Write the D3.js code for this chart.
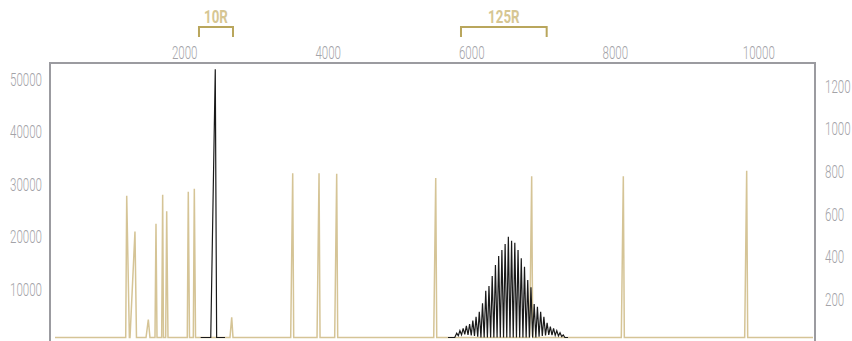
<!DOCTYPE html>
<html>
<head>
<meta charset="utf-8">
<script src="https://cdn.jsdelivr.net/npm/d3@7"></script>
<style>
  html, body { margin: 0; padding: 0; background: #fff; }
  svg { display: block; }
  .tick text { font-family: Roboto, "Liberation Sans", sans-serif; font-weight: 300; font-size: 17.5px; fill: #a3a3a8; }
</style>
</head>
<body>
<svg id="chart" width="852" height="341"></svg>
<script>
// m/z axis ticks and intensity ticks
const mzTicks = [2000, 4000, 6000, 8000, 10000];
const leftTicks = [10000, 20000, 30000, 40000, 50000];
const rightTicks = [200, 400, 600, 800, 1000, 1200];

// Reference spectrum (right axis): sparse calibrant peaks
const refMz = [200, 1185, 1199, 1236, 1245, 1314, 1335, 1468, 1500, 1523,
  1593, 1607, 1621, 1686, 1700, 1711, 1742, 1756, 1774, 2043, 2057, 2074,
  2127, 2141, 2158, 2638, 2662, 2680, 3484, 3512, 3526, 3851, 3879, 3893,
  4097, 4125, 4139, 5477, 5505, 5519, 6814, 6842, 6856, 8091, 8119, 8133,
  9810, 9838, 9852, 10762];
const refIntensity = [0, 0, 665, 0, 0, 497, 0, 0, 84, 0,
  0, 534, 0, 0, 670, 0, 0, 592, 0, 0, 684, 0,
  0, 698, 0, 0, 95, 0, 0, 771, 0, 0, 771, 0,
  0, 768, 0, 0, 748, 0, 0, 756, 0, 0, 756, 0,
  0, 782, 0, 0];

// Sample spectrum (left axis): monomer peak around 10R
const monoMz = [2230, 2370, 2433, 2452, 2569];
const monoIntensity = [0, 0, 51000, 0, 0];

// Sample spectrum (left axis): oligomer distribution around 125R
const oligoMz = [5676, 5770,
  5797, 5820, 5842, 5865, 5887, 5910, 5932, 5955, 5977, 6000,
  6022, 6045, 6067, 6090, 6112, 6135, 6157, 6180, 6202, 6225,
  6247, 6270, 6292, 6315, 6337, 6360, 6382, 6405, 6427, 6450,
  6472, 6495, 6517, 6540, 6562, 6585, 6607, 6630, 6652, 6675,
  6697, 6720, 6742, 6765, 6787, 6810, 6832, 6855, 6877, 6900,
  6922, 6945, 6967, 6990, 7012, 7035, 7057, 7080, 7102, 7125,
  7147, 7170, 7192, 7215, 7237, 7260, 7282,
  7305, 7348];
const oligoIntensity = [0, 0,
  800, 350, 1300, 500, 1750, 600, 2190, 500, 2570, 400,
  3200, 300, 3950, 150, 4900, 0, 6500, 0, 8900, 0,
  9790, 0, 11700, 0, 13780, 0, 15500, 0, 16630, 0,
  17780, 0, 19160, 0, 18400, 0, 18020, 0, 16630, 0,
  15060, 0, 13460, 0, 10930, 0, 9540, 0, 6370, 0,
  5860, 150, 4900, 300, 3950, 400, 2810, 500, 2050, 450,
  1750, 400, 1300, 300, 910, 200, 475,
  0, 0];

// Highlighted ranges above the plot
const rangeLabels = ["10R", "125R"];
const rangeStart = [2206, 5857];
const rangeEnd = [2680, 7051];

const svg = d3.select("#chart");
const frame = { left: 50, right: 815, top: 63, base: 337.5 };

const x = d3.scaleLinear().domain([130, 10790]).range([frame.left, frame.right]);
const yLeft = d3.scaleLinear().domain([0, 50000]).range([frame.base, 74.5]);
const yRight = d3.scaleLinear().domain([0, 1200]).range([frame.base, 81.7]);

const tan = "#d5c496";

// reference trace
const refLine = d3.line().x(d => x(d[0])).y(d => yRight(d[1]));
svg.append("path")
  .datum(d3.zip(refMz, refIntensity))
  .attr("d", refLine)
  .attr("fill", "none")
  .attr("stroke", tan)
  .attr("stroke-width", 1.5)
  .attr("stroke-linejoin", "miter");

// sample traces
const sampleLine = d3.line().x(d => x(d[0])).y(d => yLeft(d[1]));
[[monoMz, monoIntensity], [oligoMz, oligoIntensity]].forEach(([m, v]) => {
  svg.append("path")
    .datum(d3.zip(m, v))
    .attr("d", sampleLine)
    .attr("fill", "none")
    .attr("stroke", "#1a1a1a")
    .attr("stroke-width", 1.2);
});

// frame: left, top and right edges
svg.append("path")
  .attr("d", `M${frame.left},346V${frame.top}H${frame.right}V346`)
  .attr("fill", "none")
  .attr("stroke", "#9b9ba0")
  .attr("stroke-width", 2);

// axes
const topAxis = svg.append("g")
  .attr("transform", `translate(0,${frame.top})`)
  .call(d3.axisTop(x).tickValues(mzTicks).tickSize(0).tickFormat(d3.format("d")));
topAxis.select(".domain").remove();
topAxis.selectAll("text")
  .attr("y", 0).attr("dy", 0)
  .attr("transform", "translate(0,-4) scale(0.66,1)");

const leftAxis = svg.append("g")
  .attr("transform", `translate(${frame.left},0)`)
  .call(d3.axisLeft(yLeft).tickValues(leftTicks).tickSize(0).tickFormat(d3.format("d")));
leftAxis.select(".domain").remove();
leftAxis.selectAll("text")
  .attr("x", 0)
  .attr("transform", "translate(-8,5) scale(0.66,1)");

const rightAxis = svg.append("g")
  .attr("transform", `translate(${frame.right},0)`)
  .call(d3.axisRight(yRight).tickValues(rightTicks).tickSize(0).tickFormat(d3.format("d")));
rightAxis.select(".domain").remove();
rightAxis.selectAll("text")
  .attr("x", 0)
  .attr("transform", "translate(10,5) scale(0.66,1)");

// range brackets
const brackets = svg.append("g")
  .selectAll("g")
  .data(d3.zip(rangeLabels, rangeStart, rangeEnd))
  .join("g");
brackets.append("path")
  .attr("d", d => `M${x(d[1])},37V27H${x(d[2])}V37`)
  .attr("fill", "none")
  .attr("stroke", "#b9a65c")
  .attr("stroke-width", 2);
brackets.append("text")
  .attr("transform", d => `translate(${(x(d[1]) + x(d[2])) / 2},23) scale(0.74,1)`)
  .attr("text-anchor", "middle")
  .attr("font-family", "Roboto, sans-serif")
  .attr("font-weight", 700)
  .attr("font-size", 18)
  .attr("fill", "#d6c693")
  .text(d => d[0]);
</script>
</body>
</html>
